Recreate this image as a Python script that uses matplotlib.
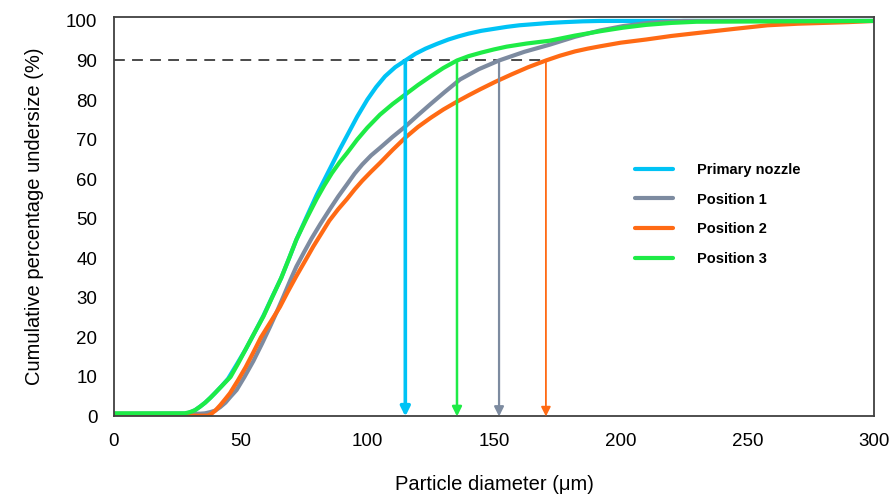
import matplotlib
matplotlib.use("Agg")
import matplotlib.pyplot as plt

plt.rcParams['font.family'] = ['Liberation Sans', 'DejaVu Sans']

# Data
labels = ["Primary nozzle", "Position 1", "Position 2", "Position 3"]
colors = ["#00C3F5", "#7D8BA0", "#FF6A14", "#1EEB46"]

primary_x = [0, 5, 28, 30, 32, 34, 36, 38, 40, 42.5, 45, 48.5, 52, 55.5, 59, 62.5, 66,
             69, 72, 76, 80, 83, 86, 89, 92, 96, 100, 103.5, 107, 111, 115, 119, 123,
             127.5, 132, 136, 140, 145, 150, 155, 160, 166, 172, 178, 185, 192, 200,
             250, 300]
primary_y = [0.6, 0.6, 0.7, 1.0, 1.6, 2.5, 3.5, 4.7, 6, 7.7, 9.5, 13.2, 17, 21.2, 25.5,
             30.3, 35, 39.8, 44.7, 50.4, 56, 59.8, 63.6, 67.4, 71, 75.8, 80.1, 83.3, 86,
             88.3, 90, 91.7, 93, 94.2, 95.3, 96.1, 96.8, 97.5, 98, 98.5, 98.9, 99.2, 99.5,
             99.7, 99.9, 100, 100, 100, 100]

pos1_x = [0, 30, 34, 36, 38, 40, 42, 44, 46, 48.4, 51.5, 55, 58.5, 61.6, 64.5, 67,
          69.5, 72, 75, 78, 81.5, 85.3, 88.5, 92, 95, 98, 101.5, 105, 110, 115, 120,
          125, 130.5, 136.6, 144, 152, 162, 172, 182, 192, 201, 211, 218, 225, 300]
pos1_y = [0.7, 0.7, 0.7, 0.8, 1.1, 1.5, 2.4, 3.5, 5, 6.7, 10, 14, 18.5, 22.7, 26.8,
          30.5, 34.3, 37.9, 41.5, 45, 48.7, 52.5, 55.6, 58.7, 61.4, 63.7, 66, 67.9,
          70.7, 73.3, 76.2, 79, 82, 85.2, 87.8, 90, 92.2, 94, 96, 97.6, 98.7, 99.5,
          99.8, 100, 100]

pos2_x = [0, 10, 37, 38.5, 40, 42, 43.8, 45.8, 49, 52, 55, 58, 62, 65.5, 68.5, 72,
          75.5, 78.7, 82, 85, 88.5, 92, 95, 98, 101.5, 105, 110, 115, 120, 125, 130,
          135.4, 140, 144.5, 150.5, 157, 163.5, 170.5, 176, 182, 187, 192, 200, 210,
          220, 231, 245, 258, 270, 280, 290, 300]
pos2_y = [0.5, 0.2, 0.2, 0.7, 1.5, 2.9, 4.3, 5.9, 9.2, 12.5, 16.2, 20, 24.1, 27.7, 31.4,
          35.5, 39.4, 43, 46.4, 49.5, 52.4, 55, 57.4, 59.6, 61.9, 64.1, 67.4, 70.5, 73.2,
          75.5, 77.6, 79.6, 81.2, 82.7, 84.6, 86.5, 88.3, 90, 91.2, 92.3, 93, 93.6, 94.5,
          95.3, 96.2, 97, 98, 98.9, 99.3, 99.5, 99.7, 100]

pos3_x = [0, 10, 28, 30, 32, 34, 36, 38, 40, 43, 46, 49, 52, 55.5, 59, 62.5, 66, 69,
          72, 76, 80, 83, 86, 89, 92, 96, 100, 105, 110, 115, 120, 125, 130, 135.4, 140,
          145, 150, 155, 163, 172, 182, 192, 201, 210, 220, 230, 300]
pos3_y = [0.8, 0.8, 0.8, 1.1, 1.6, 2.5, 3.5, 4.7, 6, 8, 10, 13.4, 17, 21.2, 25.3, 30.2,
          35, 39.8, 44.7, 50, 55, 58.4, 61.5, 64.2, 66.6, 70, 73, 76.3, 79, 81.4, 83.8,
          86, 88.1, 90, 91.1, 92, 92.8, 93.5, 94.3, 95, 96.3, 97.4, 98.3, 99, 99.5, 99.8,
          100]

# D90 values (arrow positions)
d90 = [115, 152, 170.5, 135.4]
d90_level = 90

xticks = [0, 50, 100, 150, 200, 250, 300]
yticks = [0, 10, 20, 30, 40, 50, 60, 70, 80, 90, 100]

fig = plt.figure(figsize=(8.94, 4.98), dpi=100)
ax = fig.add_axes([0.1275, 0.1637, 0.8501, 0.8022])

series = [(primary_x, primary_y), (pos1_x, pos1_y), (pos2_x, pos2_y), (pos3_x, pos3_y)]
handles = []
for (xs, ys), c, lab in zip(series, colors, labels):
    h, = ax.plot(xs, ys, color=c, lw=3.0, label=lab, solid_joinstyle='round',
                 solid_capstyle='round')
    handles.append(h)

# dashed D90 line
ax.plot([0, max(d90)], [d90_level, d90_level], color="#3c3c3c", lw=1.3,
        dashes=(6, 4), zorder=1)

arrow_lw = [2.6, 1.6, 1.3, 1.8]
for xv, c, lw in zip(d90, colors, arrow_lw):
    ax.annotate("", xy=(xv, 0), xytext=(xv, d90_level),
                arrowprops=dict(arrowstyle='-|>', color=c, lw=lw,
                                mutation_scale=14, shrinkA=0, shrinkB=0))

ax.set_xlim(0, 300)
ax.set_ylim(0, 101)
ax.set_xticks(xticks)
ax.set_yticks(yticks)
ax.tick_params(length=0, labelsize=13.5, pad=12)
for s in ax.spines.values():
    s.set_color("#404040")
    s.set_linewidth(1.3)

ax.set_xlabel("Particle diameter (\u03bcm)", fontsize=14.5, labelpad=18)
ax.set_ylabel("Cumulative percentage undersize (%)", fontsize=14.5, labelpad=16)

leg = ax.legend(handles=handles, loc='upper left', bbox_to_anchor=(0.686, 0.635),
                frameon=False, borderaxespad=0, borderpad=0,
                handlelength=2.6, handletextpad=1.6, labelspacing=1.08,
                prop={'weight': 'bold', 'size': 10.5})

fig.savefig("out.png", dpi=100)
